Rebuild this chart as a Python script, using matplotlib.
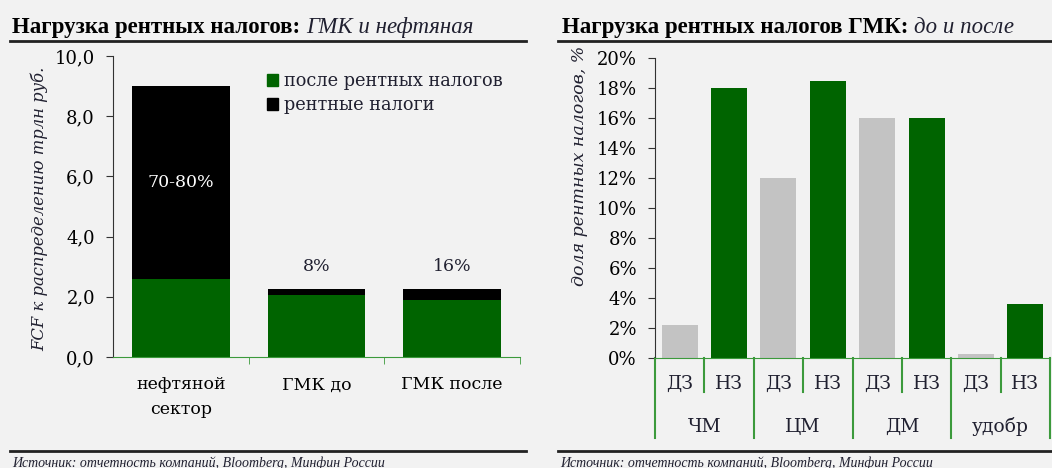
# Нагрузка рентных налогов: два графика рядом
import matplotlib.pyplot as plt
import matplotlib.transforms as mtransforms
from matplotlib.patches import Patch
import numpy as np

# данные ---------------------------------------------------------------------
left_cats = ['нефтяной\nсектор', 'ГМК до', 'ГМК после']
after_tax = [2.6, 2.07, 1.89]
rent_tax = [6.4, 0.18, 0.36]
share_labels = ['70-80%', '8%', '16%']

groups = ['ЧМ', 'ЦМ', 'ДМ', 'удобр']
sub_labels = ['ДЗ', 'НЗ']
dz = [2.2, 12.0, 16.0, 0.3]
nz = [18.0, 18.5, 16.0, 3.6]

# стиль ----------------------------------------------------------------------
W, H = 1052, 468
BG = '#f2f2f2'
GREEN = '#006400'
LINE_GREEN = '#3c9a3c'
GREY = '#c3c3c3'
TXT = '#202030'
SERIF = ['DejaVu Serif']
TIMES = ['Liberation Serif']

plt.rcParams['font.family'] = SERIF
plt.rcParams['text.color'] = TXT


def fx(px):
    return px / W


def fy(py):
    return 1 - py / H


fig = plt.figure(figsize=(W / 100, H / 100), dpi=100, facecolor=BG)


def title(x, y, bold, ital):
    t1 = fig.text(fx(x), fy(y), bold, fontsize=16.5, fontweight='bold',
                  family=TIMES, va='bottom', color='black')
    fig.add_artist(plt.Annotation(ital, xy=(1, 0), xycoords=t1, va='bottom',
                                  fontsize=16.5, fontstyle='italic',
                                  family=TIMES, color=TXT))


def hline(x0, x1, y, lw=2.0, color='#222222'):
    fig.add_artist(plt.Line2D([fx(x0), fx(x1)], [fy(y), fy(y)], lw=lw,
                              color=color, transform=fig.transFigure))


# 1 левый график -------------------------------------------------------------
title(12, 38, 'Нагрузка рентных налогов: ', 'ГМК и нефтяная')
hline(10, 526, 41)
hline(10, 526, 451)
fig.text(fx(12), fy(463), 'Источник: отчетность компаний, Bloomberg, Минфин России',
         fontsize=10, fontstyle='italic', family=TIMES, va='center')

ax1 = fig.add_axes([fx(113), fy(357), fx(520) - fx(113), fy(56) - fy(357)])
ax1.set_facecolor(BG)
x = np.arange(len(left_cats))
ax1.bar(x, after_tax, width=0.72, color=GREEN, label='после рентных налогов')
ax1.bar(x, rent_tax, width=0.72, bottom=after_tax, color='black',
        label='рентные налоги')
ax1.set_xlim(-0.5, 2.5)
ax1.set_ylim(0, 10)
ax1.set_yticks(np.arange(0, 11, 2))
ax1.set_yticklabels([f'{v:.1f}'.replace('.', ',') for v in np.arange(0, 11, 2)])
ax1.set_xticks(x)
ax1.set_xticklabels(left_cats, linespacing=1.6)
ax1.set_xticks([0.5, 1.5, 2.5], minor=True)
ax1.tick_params(axis='x', which='major', length=0, pad=14, labelsize=12.5)
ax1.tick_params(axis='x', which='minor', length=5, color=LINE_GREEN)
ax1.tick_params(axis='y', length=5, labelsize=13, color='#333333', pad=8)
for s in ['top', 'right']:
    ax1.spines[s].set_visible(False)
ax1.spines['bottom'].set_color(LINE_GREEN)
ax1.spines['left'].set_color('#333333')
ax1.spines['bottom'].set_zorder(3)
fig.text(fx(40), fy(209), 'FCF к распределению трлн руб.', rotation=90,
         fontsize=11.8, fontstyle='italic', ha='center', va='center')

totals = np.array(after_tax) + np.array(rent_tax)
ax1.text(0, (after_tax[0] + totals[0]) / 2, share_labels[0], color='white',
         ha='center', va='center', fontsize=12.5)
for i in [1, 2]:
    ax1.annotate(share_labels[i], (i, totals[i]), xytext=(0, 10),
                 textcoords='offset points', ha='center', va='bottom',
                 fontsize=12.5)

ax1.legend(handles=[Patch(color=GREEN), Patch(color='black')],
           labels=['после рентных налогов', 'рентные налоги'],
           loc='upper left', bbox_to_anchor=(fx(258), fy(63)),
           bbox_transform=fig.transFigure, frameon=False, fontsize=12.8,
           handlelength=0.65, handleheight=0.65, handletextpad=0.3,
           labelspacing=0.35, borderpad=0)

# 2 правый график ------------------------------------------------------------
title(562, 38, 'Нагрузка рентных налогов ГМК: ', 'до и после')
hline(558, 1052, 41)
hline(558, 1052, 451)
fig.text(fx(560), fy(463), 'Источник: отчетность компаний, Bloomberg, Минфин России',
         fontsize=10, fontstyle='italic', family=TIMES, va='center')

ax2 = fig.add_axes([fx(655), fy(358), fx(1050) - fx(655), fy(58) - fy(358)])
ax2.set_facecolor(BG)
gx = np.arange(len(groups)) * 2
ax2.bar(gx, dz, width=0.73, color=GREY)
ax2.bar(gx + 1, nz, width=0.73, color=GREEN)
ax2.set_xlim(-0.5, 7.5)
ax2.set_ylim(0, 20)
ax2.set_yticks(np.arange(0, 21, 2))
ax2.set_yticklabels([f'{v}%' for v in range(0, 21, 2)])
ax2.tick_params(axis='y', length=5, labelsize=13, color='#333333', pad=8)
ax2.set_xticks([])
for s in ['top', 'right']:
    ax2.spines[s].set_visible(False)
ax2.spines['bottom'].set_color(LINE_GREEN)
ax2.spines['left'].set_color('#333333')
ax2.spines['bottom'].set_zorder(3)
fig.text(fx(580), fy(46), 'доля рентных налогов, %', rotation=90,
         fontsize=12.5, fontstyle='italic', ha='center', va='top')

# подписи категорий под осью
tr = mtransforms.blended_transform_factory(ax2.transData, fig.transFigure)
for i, g in enumerate(groups):
    for j, s in enumerate(sub_labels):
        ax2.text(2 * i + j, fy(384), s, transform=tr, ha='center',
                 va='center', fontsize=13.5)
    ax2.text(2 * i + 0.5, fy(427), g, transform=tr, ha='center',
             va='center', fontsize=13.5)
    ax2.plot([2 * i + 0.5] * 2, [fy(358), fy(392)], transform=tr,
             color=LINE_GREEN, lw=1.5, clip_on=False)
for b in np.arange(-0.5, 8, 2):
    ax2.plot([b, b], [fy(358), fy(438)], transform=tr, color=LINE_GREEN,
             lw=1.5, clip_on=False)

fig.savefig('out.png', dpi=100, facecolor=BG)
